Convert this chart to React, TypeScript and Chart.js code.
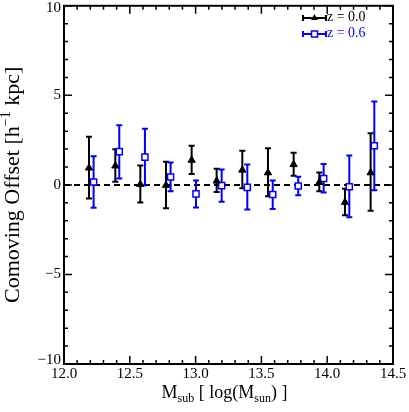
import React, { useEffect, useRef } from 'react';
import { Chart, registerables } from 'chart.js';

Chart.register(...registerables);

const FONT = '"Liberation Serif", "DejaVu Serif", serif';
const BLUE = '#0000ff';
const BLACK = '#000000';

// z = 0.0 series (black triangles)
const xZ0 = [12.19, 12.39, 12.58, 12.775, 12.97, 13.16, 13.355, 13.55, 13.745, 13.94, 14.135, 14.33];
const yZ0 = [0.95, 1.06, 0.03, -0.02, 1.38, 0.22, 0.83, 0.68, 1.14, 0.14, -0.97, 0.68];
const hiZ0 = [2.69, 1.99, 1.08, 1.29, 2.19, 0.9, 1.9, 2.04, 1.8, 0.69, -0.22, 2.88];
const loZ0 = [-0.76, 0.18, -0.98, -1.3, 0.61, -0.39, -0.19, -0.63, 0.51, -0.36, -1.69, -1.45];

// z = 0.6 series (blue squares)
const xZ6 = [12.225, 12.42, 12.615, 12.81, 13.003, 13.198, 13.393, 13.586, 13.78, 13.973, 14.168, 14.358];
const yZ6 = [0.16, 1.86, 1.55, 0.44, -0.5, -0.04, -0.14, -0.54, -0.06, 0.36, -0.1, 2.19];
const hiZ6 = [1.6, 3.33, 3.13, 1.25, 0.24, 0.86, 1.14, 0.24, 0.46, 1.16, 1.64, 4.65];
const loZ6 = [-1.28, 0.36, -0.02, -0.36, -1.26, -0.94, -1.37, -1.35, -0.58, -0.43, -1.8, -0.3];

// axes
const X_MIN = 12.0;
const X_MAX = 14.5;
const Y_MIN = -10;
const Y_MAX = 10;
const xMajorTicks = [12.0, 12.5, 13.0, 13.5, 14.0, 14.5];
const xTickLabels = ['12.0', '12.5', '13.0', '13.5', '14.0', '14.5'];
const X_MINOR_STEP = 0.1;
const yMajorTicks = [-10, -5, 0, 5, 10];
const yTickLabels = ['\u221210', '\u22125', '0', '5', '10'];
const Y_MINOR_STEP = 1;

const legendLabels = ['z = 0.0', 'z = 0.6'];

type Seg = { t: string; k: 'n' | 'sub' | 'sup' };
const xTitle: Seg[] = [
  { t: 'M', k: 'n' },
  { t: 'sub', k: 'sub' },
  { t: ' [ log(M', k: 'n' },
  { t: 'sun', k: 'sub' },
  { t: ') ]', k: 'n' },
];
const yTitle: Seg[] = [
  { t: 'Comoving Offset [h', k: 'n' },
  { t: '\u22121', k: 'sup' },
  { t: ' kpc]', k: 'n' },
];

function drawRich(ctx: CanvasRenderingContext2D, segs: Seg[], cx: number, baseY: number, size: number) {
  const small = Math.round(size * 0.65);
  const fontFor = (k: string) => `${k === 'n' ? size : small}px ${FONT}`;
  let total = 0;
  for (const s of segs) {
    ctx.font = fontFor(s.k);
    total += ctx.measureText(s.t).width;
  }
  let x = cx - total / 2;
  ctx.textAlign = 'left';
  ctx.textBaseline = 'alphabetic';
  for (const s of segs) {
    ctx.font = fontFor(s.k);
    const dy = s.k === 'sub' ? size * 0.22 : s.k === 'sup' ? -size * 0.4 : 0;
    ctx.fillText(s.t, x, baseY + dy);
    x += ctx.measureText(s.t).width;
  }
}

function drawErrorBar(ctx: CanvasRenderingContext2D, px: number, pyHi: number, pyLo: number, color: string, lw: number, cap: number) {
  ctx.strokeStyle = color;
  ctx.lineWidth = lw;
  ctx.beginPath();
  ctx.moveTo(px, pyHi);
  ctx.lineTo(px, pyLo);
  ctx.moveTo(px - cap, pyHi);
  ctx.lineTo(px + cap, pyHi);
  ctx.moveTo(px - cap, pyLo);
  ctx.lineTo(px + cap, pyLo);
  ctx.stroke();
}

const customPlugin = {
  id: 'idlStyle',
  beforeDatasetsDraw(chart: any) {
    const ctx: CanvasRenderingContext2D = chart.ctx;
    const xs = chart.scales.x;
    const ys = chart.scales.y;
    const area = chart.chartArea;
    ctx.save();
    ctx.strokeStyle = BLACK;
    ctx.lineWidth = 2;
    ctx.setLineDash([6, 4]);
    ctx.beginPath();
    const y0 = ys.getPixelForValue(0);
    ctx.moveTo(area.left, y0);
    ctx.lineTo(area.right, y0);
    ctx.stroke();
    ctx.setLineDash([]);
    for (let i = 0; i < xZ0.length; i++) {
      drawErrorBar(ctx, xs.getPixelForValue(xZ0[i]), ys.getPixelForValue(hiZ0[i]), ys.getPixelForValue(loZ0[i]), BLACK, 2, 3);
    }
    for (let i = 0; i < xZ6.length; i++) {
      drawErrorBar(ctx, xs.getPixelForValue(xZ6[i]), ys.getPixelForValue(hiZ6[i]), ys.getPixelForValue(loZ6[i]), BLUE, 2, 3);
    }
    ctx.restore();
  },
  afterDraw(chart: any) {
    const ctx: CanvasRenderingContext2D = chart.ctx;
    const xs = chart.scales.x;
    const ys = chart.scales.y;
    const a = chart.chartArea;
    ctx.save();
    ctx.strokeStyle = BLACK;
    ctx.fillStyle = BLACK;
    ctx.lineWidth = 1.5;
    ctx.beginPath();
    const nx = Math.round((X_MAX - X_MIN) / X_MINOR_STEP);
    for (let i = 0; i <= nx; i++) {
      const v = X_MIN + i * X_MINOR_STEP;
      const major = xMajorTicks.some((m) => Math.abs(m - v) < 1e-6);
      const len = major ? 8 : 4;
      const px = xs.getPixelForValue(v);
      ctx.moveTo(px, a.bottom);
      ctx.lineTo(px, a.bottom - len);
      ctx.moveTo(px, a.top);
      ctx.lineTo(px, a.top + len);
    }
    const ny = Math.round((Y_MAX - Y_MIN) / Y_MINOR_STEP);
    for (let i = 0; i <= ny; i++) {
      const v = Y_MIN + i * Y_MINOR_STEP;
      const major = yMajorTicks.some((m) => Math.abs(m - v) < 1e-6);
      const len = major ? 8 : 4;
      const py = ys.getPixelForValue(v);
      ctx.moveTo(a.left, py);
      ctx.lineTo(a.left + len, py);
      ctx.moveTo(a.right, py);
      ctx.lineTo(a.right - len, py);
    }
    ctx.stroke();
    ctx.lineWidth = 2;
    ctx.strokeRect(a.left, a.top, a.right - a.left, a.bottom - a.top);

    ctx.font = `15px ${FONT}`;
    ctx.textAlign = 'center';
    ctx.textBaseline = 'top';
    xMajorTicks.forEach((v, i) => {
      ctx.fillText(xTickLabels[i], xs.getPixelForValue(v), a.bottom + 3);
    });
    ctx.textAlign = 'right';
    ctx.textBaseline = 'middle';
    yMajorTicks.forEach((v, i) => {
      const py = Math.max(ys.getPixelForValue(v), 8);
      ctx.fillText(yTickLabels[i], a.left - 3, Math.min(py, a.bottom - 4));
    });

    drawRich(ctx, xTitle, (a.left + a.right) / 2 - 4, 398, 18);
    ctx.save();
    ctx.translate(19, (a.top + a.bottom) / 2);
    ctx.rotate(-Math.PI / 2);
    drawRich(ctx, yTitle, 0, 0, 22);
    ctx.restore();

    const lx0 = 303;
    const lx1 = 326;
    const rows = [
      { y: 18, color: BLACK, style: 'triangle' },
      { y: 34, color: BLUE, style: 'rect' },
    ];
    rows.forEach((r, i) => {
      ctx.strokeStyle = r.color;
      ctx.fillStyle = r.color;
      ctx.lineWidth = 2;
      ctx.beginPath();
      ctx.moveTo(lx0, r.y);
      ctx.lineTo(lx1, r.y);
      ctx.moveTo(lx0, r.y - 3);
      ctx.lineTo(lx0, r.y + 3);
      ctx.moveTo(lx1, r.y - 3);
      ctx.lineTo(lx1, r.y + 3);
      ctx.stroke();
      const cx = (lx0 + lx1) / 2;
      if (r.style === 'triangle') {
        ctx.beginPath();
        ctx.moveTo(cx, r.y - 4);
        ctx.lineTo(cx + 3.5, r.y + 2);
        ctx.lineTo(cx - 3.5, r.y + 2);
        ctx.closePath();
        ctx.fill();
      } else {
        ctx.fillStyle = '#ffffff';
        ctx.fillRect(cx - 3, r.y - 3, 6, 6);
        ctx.lineWidth = 1.5;
        ctx.strokeRect(cx - 3, r.y - 3, 6, 6);
        ctx.fillStyle = r.color;
      }
      ctx.font = `14px ${FONT}`;
      ctx.textAlign = 'left';
      ctx.textBaseline = 'middle';
      ctx.fillText(legendLabels[i], lx1 + 1, r.y - 1);
    });
    ctx.restore();
  },
};

export default function App() {
  const ref = useRef<HTMLCanvasElement | null>(null);
  useEffect(() => {
    if (!ref.current) return;
    const chart = new Chart(ref.current, {
      type: 'scatter',
      data: {
        datasets: [
          {
            label: legendLabels[0],
            data: xZ0.map((x, i) => ({ x, y: yZ0[i] })),
            pointStyle: 'triangle',
            radius: 4.2,
            backgroundColor: BLACK,
            borderColor: BLACK,
            borderWidth: 1,
          },
          {
            label: legendLabels[1],
            data: xZ6.map((x, i) => ({ x, y: yZ6[i] })),
            pointStyle: 'rect',
            radius: 4.3,
            backgroundColor: '#ffffff',
            borderColor: BLUE,
            borderWidth: 1.5,
          },
        ],
      },
      options: {
        responsive: false,
        animation: false,
        devicePixelRatio: 1,
        layout: { padding: { left: 64, right: 16, top: 2, bottom: 48 } },
        plugins: { legend: { display: false }, tooltip: { enabled: false } },
        scales: {
          x: { type: 'linear', min: X_MIN, max: X_MAX, display: false },
          y: { type: 'linear', min: Y_MIN, max: Y_MAX, display: false },
        },
      },
      plugins: [customPlugin],
    });
    return () => chart.destroy();
  }, []);
  return (
    <div style={{ position: 'fixed', left: 0, top: 0, width: 409, height: 412, background: '#ffffff' }}>
      <canvas ref={ref} width={409} height={412} style={{ width: 409, height: 412, display: 'block' }} />
    </div>
  );
}
